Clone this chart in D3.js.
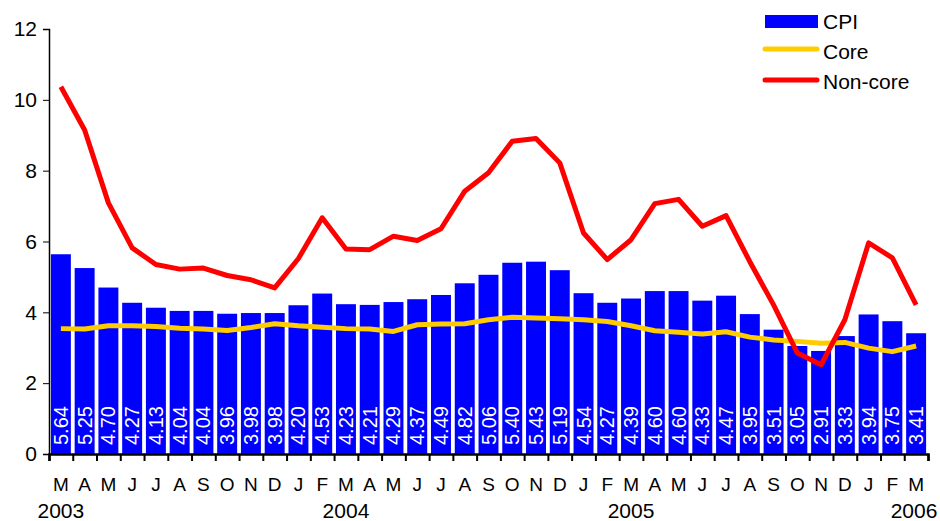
<!DOCTYPE html>
<html>
<head>
<meta charset="utf-8">
<script src="https://cdn.jsdelivr.net/npm/d3@7"></script>
<style>
body { margin: 0; background: #fff; }
text { font-family: "Liberation Sans", Arial, sans-serif; }
</style>
</head>
<body>
<script>
var months = ["M","A","M","J","J","A","S","O","N","D","J","F",
              "M","A","M","J","J","A","S","O","N","D","J","F",
              "M","A","M","J","J","A","S","O","N","D","J","F","M"];
var years = [{i: 0, label: "2003"}, {i: 12, label: "2004"}, {i: 24, label: "2005"}, {i: 36, label: "2006"}];
var cpi = [5.64,5.25,4.70,4.27,4.13,4.04,4.04,3.96,3.98,3.98,4.20,4.53,
           4.23,4.21,4.29,4.37,4.49,4.82,5.06,5.40,5.43,5.19,4.54,4.27,
           4.39,4.60,4.60,4.33,4.47,3.95,3.51,3.05,2.91,3.33,3.94,3.75,3.41];
var core = [3.54,3.53,3.62,3.62,3.60,3.55,3.53,3.49,3.57,3.68,3.62,3.58,
            3.54,3.53,3.46,3.65,3.67,3.68,3.79,3.86,3.84,3.82,3.79,3.74,
            3.62,3.48,3.44,3.39,3.45,3.30,3.22,3.18,3.13,3.15,2.99,2.89,3.05];
var noncore = [10.37,9.15,7.09,5.82,5.35,5.22,5.25,5.04,4.92,4.69,5.52,6.67,
               5.79,5.77,6.15,6.03,6.36,7.42,7.94,8.83,8.91,8.22,6.24,5.49,
               6.05,7.07,7.19,6.43,6.73,5.43,4.21,2.85,2.52,3.79,5.96,5.54,4.21];
var yTicks = [0, 2, 4, 6, 8, 10, 12];

var width = 940, height = 521;
var x0 = 49, x1 = 928, yTop = 29, yBot = 454;

var svg = d3.select("body").append("svg")
    .attr("width", width)
    .attr("height", height);

var x = d3.scaleBand()
    .domain(d3.range(cpi.length))
    .range([x0, x1])
    .paddingInner(0.16)
    .paddingOuter(0.08);
var step = (x1 - x0) / cpi.length;
var xc = function(i) { return x(i) + x.bandwidth() / 2; };

var y = d3.scaleLinear().domain([0, 12]).range([yBot, yTop]);

// bars
svg.selectAll("rect.bar")
    .data(cpi)
    .enter()
    .append("rect")
    .attr("class", "bar")
    .attr("x", function(d, i) { return x(i); })
    .attr("y", function(d) { return y(d); })
    .attr("width", x.bandwidth())
    .attr("height", function(d) { return y(0) - y(d); })
    .style("fill", "#0000FF");

// bar value labels
svg.selectAll("text.val")
    .data(cpi)
    .enter()
    .append("text")
    .attr("class", "val")
    .attr("transform", function(d, i) { return "translate(" + (xc(i) + 7) + "," + (y(0) - 9) + ") rotate(-90)"; })
    .style("font-size", "20px")
    .style("fill", "#fff")
    .text(function(d) { return d.toFixed(2); });

var line = d3.line()
    .x(function(d, i) { return xc(i); })
    .y(function(d) { return y(d); });

svg.append("path")
    .datum(core)
    .attr("d", line)
    .style("fill", "none")
    .style("stroke", "#FFCC00")
    .style("stroke-width", 5)
    .style("stroke-linejoin", "round");

svg.append("path")
    .datum(noncore)
    .attr("d", line)
    .style("fill", "none")
    .style("stroke", "#FF0000")
    .style("stroke-width", 5)
    .style("stroke-linejoin", "round");

// y axis
var yAxis = svg.append("g")
    .attr("transform", "translate(" + x0 + ",0)")
    .call(d3.axisLeft(y).tickValues(yTicks).tickSize(6).tickPadding(6));
yAxis.select(".domain").attr("stroke", "#000").attr("stroke-width", 1.5);
yAxis.selectAll("text").style("font-size", "21px").style("fill", "#000")
    .style("font-family", "'Liberation Sans', Arial, sans-serif");

// x axis: ticks at band boundaries
var xb = d3.scaleLinear().domain([0, cpi.length]).range([x0, x1]);
var xAxis = svg.append("g")
    .attr("transform", "translate(0," + yBot + ")")
    .call(d3.axisBottom(xb).tickValues(d3.range(cpi.length + 1)).tickSize(7).tickFormat(""));
xAxis.select(".domain").attr("stroke", "#000").attr("stroke-width", 2.5);
xAxis.selectAll(".tick line").attr("stroke", "#000").attr("stroke-width", 2);

svg.selectAll("text.month")
    .data(months)
    .enter()
    .append("text")
    .attr("class", "month")
    .attr("x", function(d, i) { return x0 + (i + 0.5) * step; })
    .attr("y", 491)
    .attr("text-anchor", "middle")
    .style("font-size", "19px")
    .text(function(d) { return d; });

svg.selectAll("text.year")
    .data(years)
    .enter()
    .append("text")
    .attr("class", "year")
    .attr("x", function(d) { return Math.min(x0 + (d.i + 0.5) * step, 914); })
    .attr("y", 518)
    .attr("text-anchor", "middle")
    .style("font-size", "21px")
    .text(function(d) { return d.label; });

// legend
var legend = svg.append("g");
legend.append("rect")
    .attr("x", 765).attr("y", 15).attr("width", 53).attr("height", 13)
    .style("fill", "#0000FF");
legend.append("line")
    .attr("x1", 765).attr("x2", 817).attr("y1", 49).attr("y2", 49)
    .style("stroke", "#FFCC00").style("stroke-width", 5).style("stroke-linecap", "round");
legend.append("line")
    .attr("x1", 765).attr("x2", 817).attr("y1", 80).attr("y2", 80)
    .style("stroke", "#FF0000").style("stroke-width", 5).style("stroke-linecap", "round");
var legendText = [["CPI", 29], ["Core", 59], ["Non-core", 89]];
legend.selectAll("text")
    .data(legendText)
    .enter()
    .append("text")
    .attr("x", 823)
    .attr("y", function(d) { return d[1]; })
    .style("font-size", "21px")
    .text(function(d) { return d[0]; });
</script>
</body>
</html>
